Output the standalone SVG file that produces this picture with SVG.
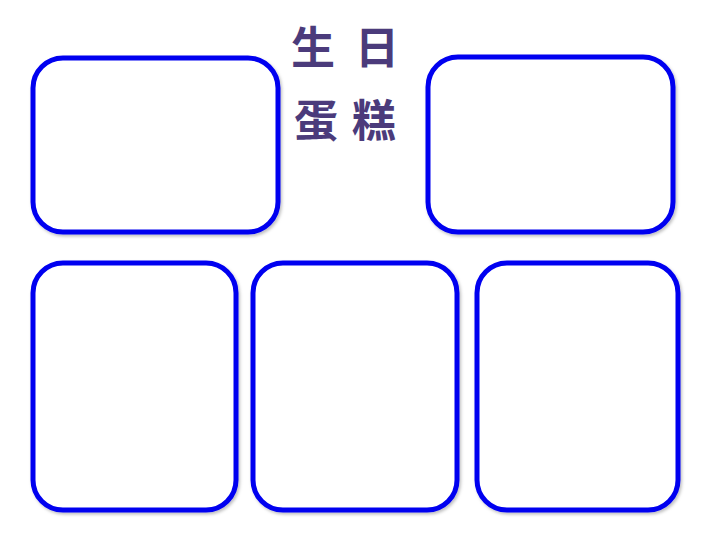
<svg xmlns="http://www.w3.org/2000/svg" width="720" height="540" viewBox="0 0 720 540">
  <defs>
    <filter id="sh" x="-10%" y="-10%" width="120%" height="120%">
      <feDropShadow dx="1.5" dy="2" stdDeviation="1.5" flood-color="#000" flood-opacity="0.25"/>
    </filter>
  </defs>
  <style>
    .box { fill: #ffffff; stroke: #0000f0; stroke-width: 5; filter: url(#sh); }
    .title { font-family: "Noto Sans CJK SC", "Noto Sans CJK TC", sans-serif; font-size: 44px; fill: #4b3b7b; text-anchor: middle; font-weight: bold; }
  </style>
  <rect width="720" height="540" fill="#ffffff"/>
  <g id="box-top-left"><rect class="box" x="33" y="58" width="245" height="174" rx="30" ry="30"/></g>
  <g id="box-top-right"><rect class="box" x="428" y="57" width="245" height="175" rx="30" ry="30"/></g>
  <g id="box-bottom-left"><rect class="box" x="33" y="263" width="203" height="247" rx="30" ry="30"/></g>
  <g id="box-bottom-middle"><rect class="box" x="253" y="263" width="204" height="247" rx="30" ry="30"/></g>
  <g id="box-bottom-right"><rect class="box" x="477" y="263" width="201" height="247" rx="30" ry="30"/></g>
  <g id="title">
    <text class="title" y="64"><tspan x="313">生</tspan><tspan x="377">日</tspan></text>
    <text class="title" y="137"><tspan x="316">蛋</tspan><tspan x="374">糕</tspan></text>
  </g>
  <g id="connectors"></g>
</svg>
